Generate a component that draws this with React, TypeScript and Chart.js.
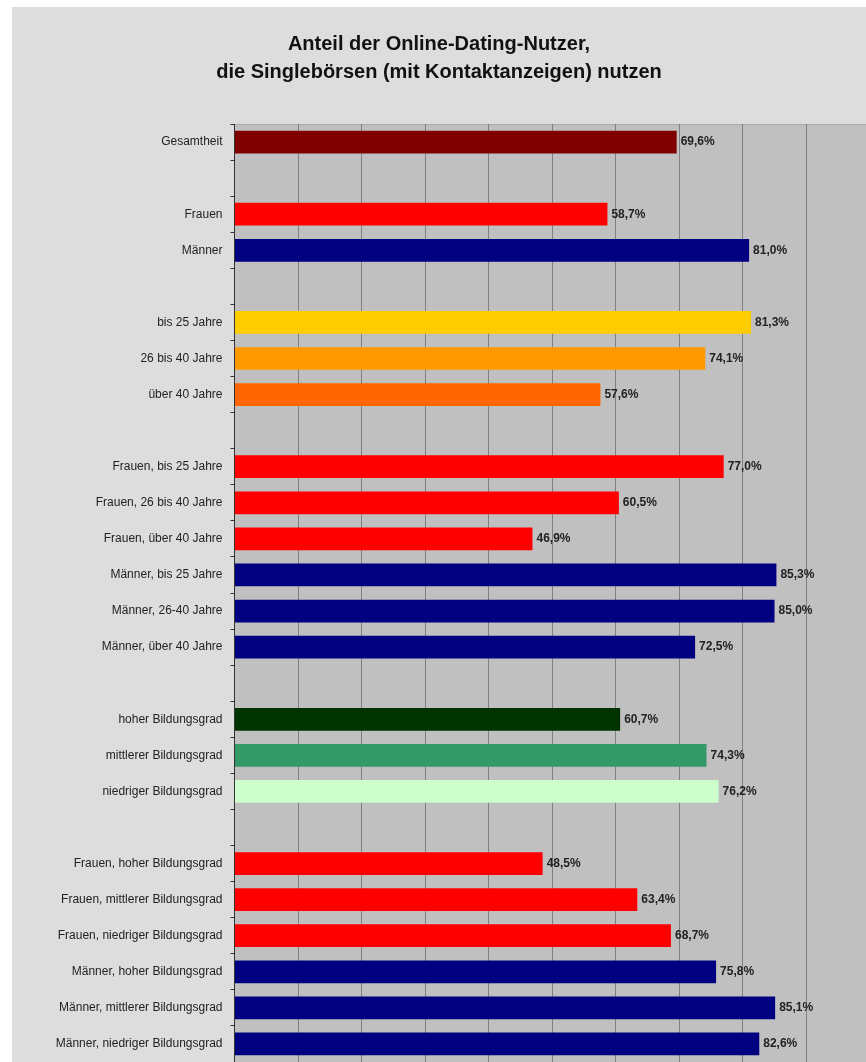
import React, { useEffect, useRef } from "react";
import { Chart, registerables } from "chart.js";

Chart.register(...registerables);

const titleLines = [
  "Anteil der Online-Dating-Nutzer,",
  "die Singlebörsen (mit Kontaktanzeigen) nutzen",
];

const categories = [
  "Gesamtheit",
  "",
  "Frauen",
  "Männer",
  "",
  "bis 25 Jahre",
  "26 bis 40 Jahre",
  "über 40 Jahre",
  "",
  "Frauen, bis 25 Jahre",
  "Frauen, 26 bis 40 Jahre",
  "Frauen, über 40 Jahre",
  "Männer, bis 25 Jahre",
  "Männer, 26-40 Jahre",
  "Männer, über 40 Jahre",
  "",
  "hoher Bildungsgrad",
  "mittlerer Bildungsgrad",
  "niedriger Bildungsgrad",
  "",
  "Frauen, hoher Bildungsgrad",
  "Frauen, mittlerer Bildungsgrad",
  "Frauen, niedriger Bildungsgrad",
  "Männer, hoher Bildungsgrad",
  "Männer, mittlerer Bildungsgrad",
  "Männer, niedriger Bildungsgrad",
];

const values: (number | null)[] = [
  69.6,
  null,
  58.7,
  81.0,
  null,
  81.3,
  74.1,
  57.6,
  null,
  77.0,
  60.5,
  46.9,
  85.3,
  85.0,
  72.5,
  null,
  60.7,
  74.3,
  76.2,
  null,
  48.5,
  63.4,
  68.7,
  75.8,
  85.1,
  82.6,
];

const RED = "#ff0000";
const NAVY = "#000080";

const barColors = [
  "#800000",
  "#000000",
  RED,
  NAVY,
  "#000000",
  "#ffcc00",
  "#ff9900",
  "#ff6600",
  "#000000",
  RED,
  RED,
  RED,
  NAVY,
  NAVY,
  NAVY,
  "#000000",
  "#003300",
  "#339966",
  "#ccffcc",
  "#000000",
  RED,
  RED,
  RED,
  NAVY,
  NAVY,
  NAVY,
];

const xMin = 0;
const xMax = 99.4;
const xStep = 10;

const plotBgPlugin = {
  id: "plotBg",
  beforeDraw(chart: any) {
    const { ctx, chartArea } = chart;
    if (!chartArea) return;
    ctx.save();
    ctx.fillStyle = "#c0c0c0";
    ctx.fillRect(
      chartArea.left,
      chartArea.top,
      chartArea.right - chartArea.left,
      chartArea.bottom - chartArea.top
    );
    ctx.strokeStyle = "#a8a8a8";
    ctx.lineWidth = 1;
    ctx.beginPath();
    ctx.moveTo(chartArea.left, chartArea.top + 0.5);
    ctx.lineTo(chartArea.right, chartArea.top + 0.5);
    ctx.stroke();
    ctx.restore();
  },
};

const valueLabelPlugin = {
  id: "valueLabels",
  afterDatasetsDraw(chart: any) {
    const { ctx } = chart;
    const meta = chart.getDatasetMeta(0);
    ctx.save();
    ctx.font = "bold 12px 'Liberation Sans', Arial, sans-serif";
    ctx.fillStyle = "#222222";
    ctx.textAlign = "left";
    ctx.textBaseline = "middle";
    meta.data.forEach((bar: any, i: number) => {
      const v = values[i];
      if (v == null) return;
      const txt = v.toFixed(1).replace(".", ",") + "%";
      ctx.fillText(txt, bar.x + 4, bar.y);
    });
    ctx.restore();
  },
};

export default function App() {
  const canvasRef = useRef<HTMLCanvasElement | null>(null);

  useEffect(() => {
    if (!canvasRef.current) return;
    const chart = new Chart(canvasRef.current, {
      type: "bar",
      data: {
        labels: categories,
        datasets: [
          {
            data: values as any,
            backgroundColor: barColors,
            borderWidth: 0,
            categoryPercentage: 1,
            barPercentage: 0.63,
          },
        ],
      },
      options: {
        indexAxis: "y",
        animation: false,
        responsive: false,
        maintainAspectRatio: false,
        layout: { padding: { left: 0, right: 0, top: 0, bottom: 0 } },
        plugins: {
          legend: { display: false },
          tooltip: { enabled: false },
          title: {
            display: true,
            text: titleLines,
            color: "#111111",
            font: {
              family: "'Liberation Sans', Arial, sans-serif",
              size: 20,
              weight: "bold",
              lineHeight: 1.4,
            },
            padding: { top: 23, bottom: 38 },
          },
        },
        scales: {
          x: {
            type: "linear",
            min: xMin,
            max: xMax,
            ticks: { display: false, stepSize: xStep },
            grid: {
              color: "#808080",
              lineWidth: 1,
              drawTicks: false,
            },
            border: { display: false },
            afterFit: (scale: any) => {
              scale.height = 0;
              scale.paddingLeft = 0;
              scale.paddingRight = 0;
            },
          },
          y: {
            type: "category",
            ticks: {
              autoSkip: false,
              padding: 8,
              color: "#222222",
              font: { family: "'Liberation Sans', Arial, sans-serif", size: 12 },
            },
            grid: {
              drawOnChartArea: false,
              drawTicks: true,
              tickLength: 4,
              tickColor: "#333333",
              color: "#333333",
            },
            border: { display: true, color: "#333333", width: 1 },
            afterFit: (scale: any) => {
              scale.width = 222.5;
              scale.paddingTop = 0;
              scale.paddingBottom = 0;
            },
          },
        },
      },
      plugins: [plotBgPlugin, valueLabelPlugin],
    });
    return () => chart.destroy();
  }, []);

  return (
    <div
      style={{
        position: "fixed",
        left: 0,
        top: 0,
        width: 866,
        height: 1062,
        background: "#ffffff",
        overflow: "hidden",
      }}
    >
      <div
        style={{
          position: "absolute",
          left: 12,
          top: 7,
          width: 854,
          height: 1055,
          background: "#dddddd",
        }}
      >
        <canvas ref={canvasRef} width={854} height={1055} style={{ display: "block" }} />
      </div>
    </div>
  );
}
